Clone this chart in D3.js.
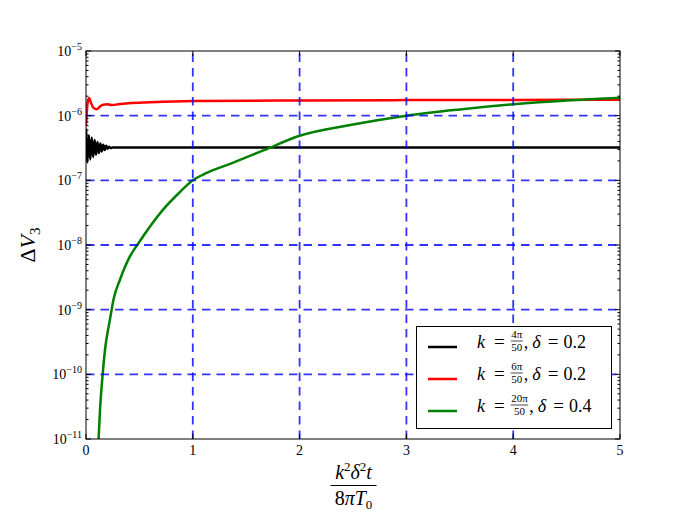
<!DOCTYPE html>
<html>
<head>
<meta charset="utf-8">
<script src="https://cdn.jsdelivr.net/npm/d3@7"></script>
<style>
	body{ margin:0; background:#fff; }
	svg{ display:block; }
	text{ font-family:"Liberation Serif","DejaVu Serif",serif; fill:#000; }
</style>
</head>
<body>
<div id="chart"></div>
<script>
// ---- data ----
const xTicks = [0, 1, 2, 3, 4, 5];
const yExponents = [-11, -10, -9, -8, -7, -6, -5];

// k = 4pi/50, delta = 0.2
const blackT = [0, 0.006, 0.013, 0.027, 0.04, 0.054, 0.067, 0.081, 0.094, 0.108, 0.121, 0.135, 0.148, 0.162, 0.175, 0.189, 0.202, 0.216, 0.23, 0.25, 0.4, 1, 2, 3, 4, 5];
const blackV = [6.3e-7, 3.4e-7, 1.9e-7, 5.0e-7, 2.1e-7, 4.6e-7, 2.3e-7, 4.2e-7, 2.5e-7, 3.9e-7, 2.65e-7, 3.7e-7, 2.8e-7, 3.55e-7, 2.95e-7, 3.42e-7, 3.07e-7, 3.32e-7, 3.15e-7, 3.22e-7, 3.21e-7, 3.22e-7, 3.23e-7, 3.23e-7, 3.23e-7, 3.23e-7];

// k = 6pi/50, delta = 0.2
const redT = [0, 0.01, 0.02, 0.03, 0.045, 0.07, 0.1, 0.13, 0.16, 0.2, 0.25, 0.3, 0.4, 0.6, 1, 2, 3, 4, 5];
const redV = [7.0e-7, 1.3e-6, 1.75e-6, 1.87e-6, 1.6e-6, 1.32e-6, 1.26e-6, 1.38e-6, 1.48e-6, 1.5e-6, 1.46e-6, 1.5e-6, 1.56e-6, 1.61e-6, 1.68e-6, 1.72e-6, 1.74e-6, 1.75e-6, 1.76e-6];

// k = 20pi/50, delta = 0.4
const greenT = [0.115, 0.131, 0.156, 0.178, 0.218, 0.24, 0.256, 0.318, 0.41, 0.48, 0.72, 0.88, 1.0, 1.13, 1.35, 1.66, 2, 2.5, 3, 3.5, 4, 4.5, 5];
const greenV = [8e-12, 2.8e-11, 1e-10, 2.4e-10, 6.2e-10, 1e-9, 1.4e-9, 2.9e-9, 6.6e-9, 1e-8, 3.5e-8, 6.6e-8, 1e-7, 1.3e-7, 1.8e-7, 2.9e-7, 4.9e-7, 7.3e-7, 1e-6, 1.25e-6, 1.5e-6, 1.72e-6, 1.9e-6];

const legendNum = ["4π", "6π", "20π"];
const legendDelta = ["0.2", "0.2", "0.4"];
const seriesColors = ["#000000", "#ff0000", "#008000"];

// ---- layout ----
let
	width = 690,
	height = 517,
	pL = 86, pT = 51, pR = 620, pB = 439,
	x = d3.scaleLinear([0, 5], [pL, pR]),
	y = d3.scaleLog([1e-11, 1e-5], [pB, pT]),
	svg = d3.select("#chart").append("svg")
		.attr("width", width)
		.attr("height", height)

svg.append("defs").append("clipPath")
	.attr("id", "plot")
	.append("rect")
	.attr("x", pL).attr("y", pT)
	.attr("width", pR - pL).attr("height", pB - pT)

let line = d3.line()
	.x(d => x(d[0]))
	.y(d => y(d[1]))
	.curve(d3.curveMonotoneX)

let series = [
	d3.zip(blackT, blackV),
	d3.zip(redT, redV),
	d3.zip(greenT, greenV)
]

svg.append("g")
	.attr("clip-path", "url(#plot)")
	.attr("fill", "none")
	.attr("stroke-width", 2.5)
	.attr("stroke-linejoin", "round")
	.selectAll("path")
	.data(series)
	.join("path")
	.attr("stroke", (d, i) => seriesColors[i])
	.attr("d", line)

// grid (drawn above lines, like the classic style)
let grid = svg.append("g")
	.attr("stroke", "#0000ff")
	.attr("stroke-opacity", 0.8)
	.attr("stroke-width", 1.8)
	.attr("stroke-dasharray", "8.5,6")

grid.selectAll(".gx")
	.data(xTicks.slice(1, -1))
	.join("line")
	.attr("x1", d => x(d)).attr("x2", d => x(d))
	.attr("y1", pB).attr("y2", pT)

grid.selectAll(".gy")
	.data(yExponents.slice(1, -1))
	.join("line")
	.attr("y1", d => y(Math.pow(10, d))).attr("y2", d => y(Math.pow(10, d)))
	.attr("x1", pL).attr("x2", pR)

// ticks, inward on all four sides
let ticks = svg.append("g").attr("stroke", "#000").attr("stroke-width", 1)
let minor = []
yExponents.slice(0, -1).forEach(e => {
	for (let m = 2; m < 10; m++) minor.push(m * Math.pow(10, e))
})

xTicks.forEach(t => {
	ticks.append("line").attr("x1", x(t)).attr("x2", x(t)).attr("y1", pB).attr("y2", pB - 5)
	ticks.append("line").attr("x1", x(t)).attr("x2", x(t)).attr("y1", pT).attr("y2", pT + 5)
})
yExponents.forEach(e => {
	let yy = y(Math.pow(10, e))
	ticks.append("line").attr("x1", pL).attr("x2", pL + 5).attr("y1", yy).attr("y2", yy)
	ticks.append("line").attr("x1", pR).attr("x2", pR - 5).attr("y1", yy).attr("y2", yy)
})
minor.forEach(v => {
	let yy = y(v)
	ticks.append("line").attr("x1", pL).attr("x2", pL + 2.5).attr("y1", yy).attr("y2", yy)
	ticks.append("line").attr("x1", pR).attr("x2", pR - 2.5).attr("y1", yy).attr("y2", yy)
})

svg.append("rect")
	.attr("x", pL).attr("y", pT)
	.attr("width", pR - pL).attr("height", pB - pT)
	.attr("fill", "none").attr("stroke", "#000").attr("stroke-width", 1)

// tick labels
svg.append("g")
	.attr("font-size", 14)
	.attr("text-anchor", "middle")
	.selectAll("text")
	.data(xTicks)
	.join("text")
	.attr("x", d => x(d))
	.attr("y", pB + 16)
	.text(d => d)

let yl = svg.append("g")
	.attr("font-size", 14)
	.attr("text-anchor", "end")
	.selectAll("text")
	.data(yExponents)
	.join("text")
	.attr("x", pL - 4)
	.attr("y", d => y(Math.pow(10, d)) + 5)
yl.append("tspan").text("10")
yl.append("tspan").attr("font-size", 10).attr("dy", -6).text(d => "\u2212" + Math.abs(d))

// axis labels
let yLab = svg.append("text")
	.attr("transform", "translate(35,245) rotate(-90)")
	.attr("text-anchor", "middle")
	.attr("font-size", 22)
yLab.append("tspan").text("Δ")
yLab.append("tspan").attr("font-style", "italic").text("V")
yLab.append("tspan").attr("font-size", 15).attr("dy", 5).text("3")

let cx = (pL + pR) / 2 + 0.5
let num = svg.append("text").attr("x", cx).attr("y", 479).attr("text-anchor", "middle").attr("font-size", 20)
num.append("tspan").attr("font-style", "italic").text("k")
num.append("tspan").attr("font-size", 13).attr("dy", -8).text("2")
num.append("tspan").attr("font-style", "italic").attr("dy", 8).text("δ")
num.append("tspan").attr("font-size", 13).attr("dy", -8).text("2")
num.append("tspan").attr("font-style", "italic").attr("dy", 8).text("t")
svg.append("line").attr("x1", cx - 23).attr("x2", cx + 23).attr("y1", 485.5).attr("y2", 485.5).attr("stroke", "#000").attr("stroke-width", 1)
let den = svg.append("text").attr("x", cx).attr("y", 505).attr("text-anchor", "middle").attr("font-size", 20)
den.append("tspan").text("8")
den.append("tspan").attr("font-style", "italic").text("πT")
den.append("tspan").attr("font-size", 13).attr("dy", 4).text("0")

// legend
let legend = svg.append("g")
legend.append("rect")
	.attr("x", 416.5).attr("y", 326.5)
	.attr("width", 195).attr("height", 102)
	.attr("fill", "#fff").attr("stroke", "#000").attr("stroke-width", 1)

legendNum.forEach((n, i) => {
	let ry = 347 + i * 32
	legend.append("line")
		.attr("x1", 428).attr("x2", 457).attr("y1", ry).attr("y2", ry)
		.attr("stroke", seriesColors[i]).attr("stroke-width", 2.5)
	mathRow(legend, 477, ry + 1, n, "50", legendDelta[i])
})

function piece(g, px, py, str, size, italic, anchor) {
	let t = g.append("text")
		.attr("x", px).attr("y", py)
		.attr("font-size", size)
		.attr("text-anchor", anchor || "start")
		.text(str)
	if (italic) t.attr("font-style", "italic")
	return t.node().getComputedTextLength()
}

function mathRow(g, px, py, n, d, delta) {
	let c = px
	c += piece(g, c, py, "k", 18, true) + 9
	c += piece(g, c, py, "=", 19) + 6
	let fw = Math.max(measure(n, 11), measure(d, 11)) + 1
	piece(g, c + fw / 2, py - 10, n, 11, false, "middle")
	piece(g, c + fw / 2, py + 3, d, 11, false, "middle")
	g.append("line").attr("x1", c).attr("x2", c + fw)
		.attr("y1", py - 7).attr("y2", py - 7)
		.attr("stroke", "#000").attr("stroke-width", 0.7)
	c += fw + 1
	c += piece(g, c, py, ",", 18) + 4
	c += piece(g, c, py, "δ", 18, true) + 7
	c += piece(g, c, py, "=", 19) + 5
	piece(g, c, py, delta, 18)
}

function measure(str, size) {
	let t = svg.append("text").attr("font-size", size).text(str)
	let w = t.node().getComputedTextLength()
	t.remove()
	return w
}
</script>
</body>
</html>
